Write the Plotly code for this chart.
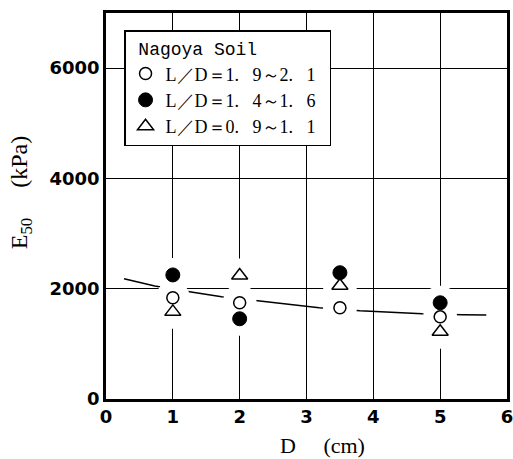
import plotly.graph_objects as go

# Data
d_vals = [1, 2, 3.5, 5]
e_open = [1835, 1745, 1655, 1490]      # L/D = 1.9~2.1
e_filled = [2250, 1455, 2290, 1745]    # L/D = 1.4~1.6
e_tri = [1580, 2240, 2055, 1220]       # L/D = 0.9~1.1
fit_x = [0.27, 0.73, 1.25, 1.73, 2.27, 3.19, 3.8, 4.73, 5.33, 5.69]
fit_y = [2180, 2050, 1945, 1855, 1780, 1655, 1600, 1545, 1530, 1525]
labels = ["L／D＝1.\u00a0\u20029～2.\u00a0\u20021\u2002",
          "L／D＝1.\u00a0\u20024～1.\u00a0\u20026\u2002",
          "L／D＝0.\u00a0\u20029～1.\u00a0\u20021\u2002"]
x_ticks = [0, 1, 2, 3, 4, 5, 6]
y_ticks = [0, 2000, 4000, 6000]

fig = go.Figure()

# fitted trend line
fig.add_trace(go.Scatter(x=fit_x, y=fit_y, mode="lines", line=dict(color="black", width=1.5),
                         showlegend=False, hoverinfo="skip"))
# white halos to break grid and trend line near markers
for ys in (e_open, e_filled, e_tri):
    fig.add_trace(go.Scatter(x=d_vals, y=ys, mode="markers",
                             marker=dict(color="white", size=34, symbol="circle"),
                             showlegend=False, hoverinfo="skip"))

fig.add_trace(go.Scatter(x=d_vals, y=e_open, mode="markers", name=labels[0],
                         marker=dict(symbol="circle", size=12, color="white",
                                     line=dict(color="black", width=1.5))))
fig.add_trace(go.Scatter(x=d_vals, y=e_filled, mode="markers", name=labels[1],
                         marker=dict(symbol="circle", size=14, color="black",
                                     line=dict(color="black", width=1))))
fig.add_trace(go.Scatter(x=d_vals, y=e_tri, mode="markers", name=labels[2],
                         marker=dict(symbol="triangle-up", size=14, color="white",
                                     line=dict(color="black", width=1.5))))

fig.update_layout(
    width=513, height=459,
    margin=dict(l=106, r=6, t=13, b=60),
    paper_bgcolor="white", plot_bgcolor="white",
    font=dict(family="Liberation Serif", color="black"),
    legend=dict(x=0.045, y=0.955, xanchor="left", yanchor="top",
                bgcolor="white", bordercolor="black", borderwidth=1.5,
                font=dict(family="Liberation Serif", size=18, color="black"),
                title=dict(text="\u00a0Nagoya Soil", font=dict(family="Liberation Mono", size=18)),
                tracegroupgap=0, itemwidth=30),
    annotations=[
        dict(text="E<sub>50</sub>\u2003 (kPa)", xref="paper", yref="paper", x=-0.21, y=0.535,
             xanchor="center", yanchor="middle", textangle=-90, showarrow=False,
             font=dict(family="Liberation Serif", size=24, color="black")),
        dict(text="D\u2003 (cm)", xref="paper", yref="paper", x=0.54, y=-0.12,
             xanchor="center", yanchor="middle", showarrow=False,
             font=dict(family="Liberation Serif", size=22, color="black")),
    ],
)
fig.update_xaxes(range=[0, 6], tickvals=x_ticks, automargin=False, ticklabeloverflow="allow",
                 showgrid=True, gridcolor="black", gridwidth=1,
                 showline=True, linecolor="black", linewidth=2.5, mirror=True,
                 zeroline=False, ticks="",
                 tickfont=dict(family="DejaVu Sans", size=18, color="black", weight="bold"))
fig.update_yaxes(range=[0, 7000], tickvals=y_ticks, tickformat="d", automargin=False,
                 showgrid=True, gridcolor="black", gridwidth=1,
                 showline=True, linecolor="black", linewidth=2.5, mirror=True,
                 zeroline=False, ticks="",
                 tickfont=dict(family="DejaVu Sans", size=18, color="black", weight="bold"))

# remove the browser's default 8px body margin so the 513x459 figure fills the window
fig.write_html("out.html", config={"displayModeBar": False},
               post_script="document.body.style.margin='0px';document.body.style.overflow='hidden';")
